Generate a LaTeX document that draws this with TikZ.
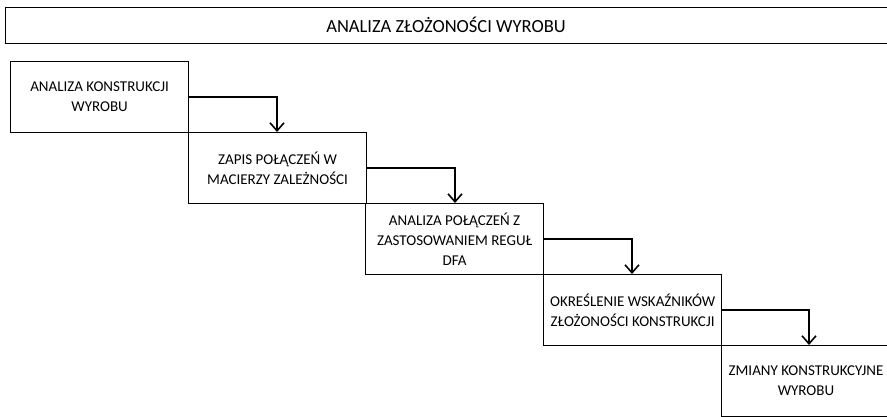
\documentclass[tikz,border=0pt]{standalone}
\usepackage{fontspec}
\setmainfont{Carlito}
\usetikzlibrary{arrows.meta}
\begin{document}
\begin{tikzpicture}[x=1pt,y=-1pt,
  boxtext/.style={align=center,inner sep=0pt,font=\fontsize{15}{20}\selectfont},
  stepbox/.style={draw,line width=1.2pt,minimum width=178pt,minimum height=71pt,anchor=north west,inner sep=0pt,boxtext},
  flow/.style={line width=2pt,-{Straight Barb[length=8pt,width=14pt,line width=1.6pt]}}]
\useasboundingbox (0,0) rectangle (887,417);
\clip (0,0) rectangle (887,417);
\node[draw,line width=1.2pt,anchor=north west,minimum width=900pt,minimum height=36pt,inner sep=0pt] (title) at (5,7) {};
\node[font=\fontsize{18.5}{22}\selectfont] (titletext) at (446,25) {ANALIZA ZŁOŻONOŚCI WYROBU};
\node[stepbox] (b1) at (10,61) {ANALIZA KONSTRUKCJI\\WYROBU};
\node[stepbox] (b2) at (188,132) {ZAPIS POŁĄCZEŃ W\\MACIERZY ZALEŻNOŚCI};
\node[stepbox] (b3) at (365,203) {ANALIZA POŁĄCZEŃ Z\\ZASTOSOWANIEM REGUŁ\\DFA};
\node[stepbox] (b4) at (543,274) {OKREŚLENIE WSKAŹNIKÓW\\ZŁOŻONOŚCI KONSTRUKCJI};
\node[stepbox] (b5) at (721,345) {};
\node[boxtext] (b5t) at (806,381) {ZMIANY KONSTRUKCYJNE\\WYROBU};
\draw[flow] (b1.east) -| (277,132);
\draw[flow] (b2.east) -| (455,203);
\draw[flow] (b3.east) -| (632,274);
\draw[flow] (b4.east) -| (809,345);
\end{tikzpicture}
\end{document}
